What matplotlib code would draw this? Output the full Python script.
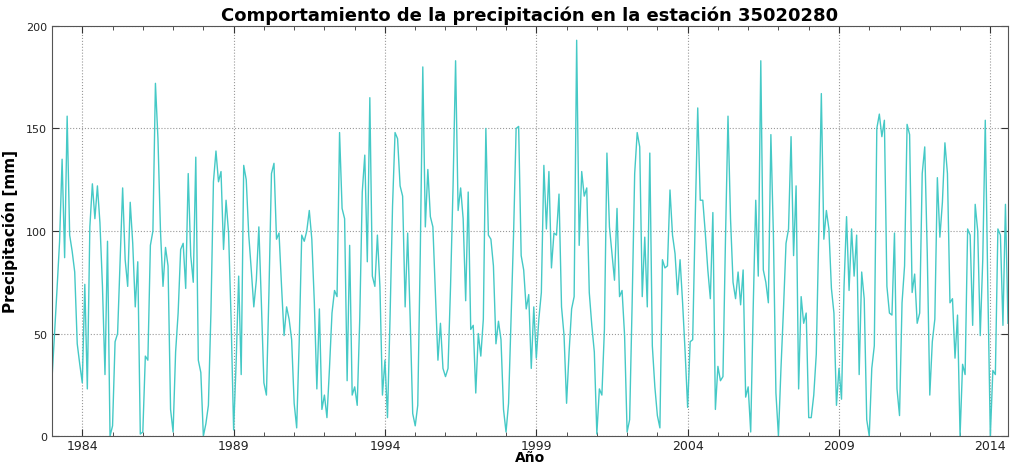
import matplotlib
matplotlib.use("Agg")
import matplotlib.pyplot as plt
from matplotlib.ticker import MultipleLocator
import numpy as np

start_year = 1983
precip_mm = [
    28, 50, 72, 95, 135, 87, 156, 98, 90, 80, 45, 35, 26, 74, 23, 102, 123, 106, 122, 104,
    73, 30, 95, 0, 5, 46, 50, 85, 121, 86, 73, 114, 94, 63, 85, 1, 2, 39, 37, 93,
    100, 172, 145, 100, 73, 92, 83, 13, 2, 41, 60, 91, 94, 72, 128, 88, 75, 136, 37, 31,
    0, 6, 15, 60, 124, 139, 124, 129, 91, 115, 99, 57, 3, 36, 78, 30, 132, 125, 98, 81,
    63, 76, 102, 65, 26, 20, 70, 128, 133, 96, 99, 73, 49, 63, 57, 47, 16, 4, 46, 98,
    95, 100, 110, 96, 65, 23, 62, 13, 20, 9, 33, 60, 71, 68, 148, 111, 106, 27, 93, 20,
    24, 15, 57, 119, 137, 85, 165, 78, 73, 98, 73, 20, 37, 9, 57, 112, 148, 145, 122, 117,
    63, 99, 57, 11, 5, 15, 89, 180, 102, 130, 107, 102, 70, 37, 55, 33, 29, 33, 73, 122,
    183, 110, 121, 106, 66, 119, 52, 54, 21, 50, 39, 57, 150, 98, 96, 83, 45, 56, 47, 13,
    2, 16, 57, 99, 150, 151, 88, 81, 62, 69, 33, 63, 38, 57, 70, 132, 101, 129, 82, 99,
    98, 118, 63, 49, 16, 41, 62, 68, 193, 93, 129, 117, 121, 70, 54, 41, 1, 23, 20, 52,
    138, 102, 89, 76, 111, 68, 71, 49, 2, 8, 65, 128, 148, 141, 68, 97, 63, 138, 44, 24,
    10, 4, 86, 82, 83, 120, 98, 89, 69, 86, 65, 41, 14, 46, 47, 106, 160, 115, 115, 99,
    81, 67, 109, 13, 34, 27, 29, 96, 156, 106, 75, 67, 80, 64, 81, 19, 24, 2, 63, 115,
    78, 183, 81, 75, 65, 147, 98, 21, 0, 33, 62, 94, 101, 146, 88, 122, 23, 68, 55, 60,
    9, 9, 20, 40, 100, 167, 96, 110, 101, 72, 60, 15, 33, 18, 73, 107, 71, 101, 78, 98,
    30, 80, 67, 8, 0, 33, 44, 150, 157, 146, 154, 73, 60, 59, 99, 23, 10, 65, 83, 152,
    147, 70, 79, 55, 60, 128, 141, 89, 20, 46, 57, 126, 97, 114, 143, 128, 65, 67, 38, 59,
    0, 35, 30, 101, 98, 54, 113, 100, 49, 86, 154, 73, 0, 32, 30, 101, 98, 54, 113, 55,
]
year_ticks = [1984, 1989, 1994, 1999, 2004, 2009, 2014]
y_ticks = [0, 50, 100, 150, 200]

years = start_year + np.arange(len(precip_mm)) / 12.0

fig = plt.figure(figsize=(10.10, 4.64), dpi=100)
ax = fig.add_axes([0.0515, 0.058, 0.9465, 0.884])
ax.plot(years, precip_mm, color="#45c9c6", linewidth=1.0)

ax.set_xlim(years[0], years[-1])
ax.set_ylim(0, 200)
ax.set_xticks(year_ticks)
ax.set_xticklabels([str(y) for y in year_ticks])
ax.xaxis.set_minor_locator(MultipleLocator(1))
ax.set_yticks(y_ticks)
ax.tick_params(which="both", direction="in", top=True, right=True, colors="#333333",
               labelcolor="#222222")
ax.tick_params(which="major", length=5, labelsize=9)
ax.tick_params(axis="x", pad=2)
ax.tick_params(axis="y", labelsize=8)
ax.tick_params(which="minor", length=3)
ax.grid(True, which="major", linestyle=":", color="#999999", linewidth=0.8)
for s in ax.spines.values():
    s.set_color("#555555")

ax.set_title("Comportamiento de la precipitación en la estación 35020280",
             fontsize=13, fontweight="bold", pad=4)
ax.set_ylabel("Precipitación [mm]", fontsize=11, fontweight="bold", labelpad=6)
ax.set_xlabel("Año", fontsize=10, fontweight="bold", labelpad=-1)

fig.savefig("out.png", dpi=100, facecolor="white")
